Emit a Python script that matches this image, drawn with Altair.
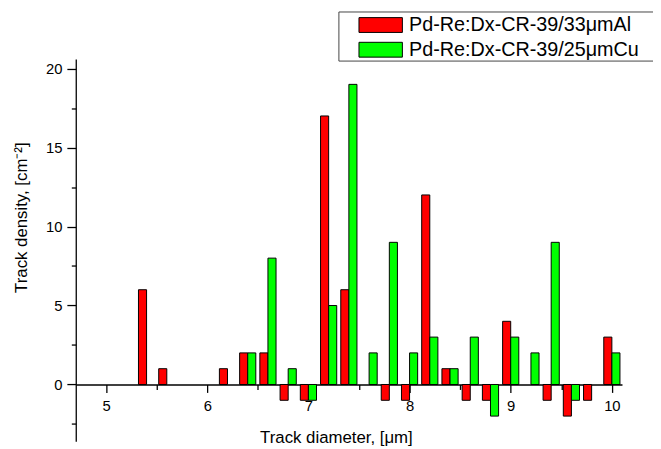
import altair as alt
import pandas as pd

# ---- data ----
bin_centers = [5.0, 5.2, 5.4, 5.6, 5.8, 6.0, 6.2, 6.4, 6.6, 6.8, 7.0, 7.2, 7.4,
               7.6, 7.8, 8.0, 8.2, 8.4, 8.6, 8.8, 9.0, 9.2, 9.4, 9.6, 9.8, 10.0]
al_values = [0, 0, 6, 1, 0, 0, 1, 2, 2, -1, -1, 17, 6,
             0, -1, -1, 12, 1, -1, -1, 4, 0, -1, -2, -1, 3]
cu_values = [0, 0, 0, 0, 0, 0, 0, 2, 8, 1, -1, 5, 19,
             2, 9, 2, 3, 1, 3, -2, 3, 2, 9, -1, 0, 2]
series_names = ["Pd-Re:Dx-CR-39/33\u03bcmAl", "Pd-Re:Dx-CR-39/25\u03bcmCu"]
series_colors = ["#FF0000", "#00FF00"]
x_major = [5, 6, 7, 8, 9, 10]
x_minor = [5.5, 6.5, 7.5, 8.5, 9.5]
y_major = [0, 5, 10, 15, 20]
y_minor = [-2.5, 2.5, 7.5, 12.5, 17.5]

BAR_W = 0.08
rows = []
for name, vals, side in [(series_names[0], al_values, -1), (series_names[1], cu_values, 0)]:
    for c, v in zip(bin_centers, vals):
        if v == 0:
            continue
        x0 = c + side * BAR_W
        rows.append({"series": name, "x0": x0, "x1": x0 + BAR_W, "value": v})
df = pd.DataFrame(rows)

FONT = "Liberation Sans"
W, H = 553, 387
YDOM = [-3.6, 20.6]
XDOM = [4.7, 10.1]
y0_px = H * YDOM[1] / (YDOM[1] - YDOM[0])
x_off = -(H - y0_px)

xscale = alt.Scale(domain=XDOM, nice=False, zero=False)
yscale = alt.Scale(domain=YDOM, nice=False, zero=False)

common_axis = dict(labelFont=FONT, labelFontSize=15, labelColor="black",
                   tickColor="black", domainColor="black", tickWidth=1.3,
                   domainWidth=1.3, grid=False, titleFont=FONT, titleFontSize=17,
                   titleColor="black", titleFontWeight="normal")

x_axis_major = alt.Axis(values=x_major, format="d", orient="bottom", offset=x_off,
                        tickSize=8, labelPadding=6, title="Track diameter, [\u03bcm]",
                        titleX=263.4, titleY=54, titleAlign="center",
                        titleBaseline="middle", titleAngle=0, **common_axis)
y_axis_major = alt.Axis(values=y_major, format="d", orient="left", tickSize=9,
                        labelPadding=5, title="Track density, [cm\u207b\u00b2]",
                        titleX=-54.6, titleY=160, titleAngle=270, titleAlign="center",
                        titleBaseline="middle", **common_axis)
x_axis_minor = alt.Axis(values=x_minor, orient="bottom", offset=x_off, tickSize=5,
                        labels=False, domain=False, title=None, grid=False,
                        tickColor="black", tickWidth=1.3)
y_axis_minor = alt.Axis(values=y_minor, orient="left", tickSize=4.5, labels=False,
                        domain=False, title=None, grid=False, tickColor="black",
                        tickWidth=1.3)

legend = alt.Legend(title=None, orient="none", legendX=281.7, legendY=-44.5,
                    padding=0, symbolType="M-2.93,-1L2.93,-1L2.93,1L-2.93,1Z",
                    symbolSize=225, symbolStrokeColor="black", symbolStrokeWidth=1,
                    symbolOpacity=1, symbolOffset=17, labelOffset=18.7,
                    labelFont=FONT, labelFontSize=20, labelColor="black",
                    labelLimit=0, rowPadding=5)

bars = alt.Chart(df).mark_rect(stroke="black", strokeWidth=1).encode(
    x=alt.X("x0:Q", scale=xscale, axis=x_axis_major),
    x2="x1:Q",
    y=alt.Y("value:Q", scale=yscale, axis=y_axis_major),
    y2=alt.datum(0),
    fill=alt.Fill("series:N", scale=alt.Scale(domain=series_names, range=series_colors),
                  legend=legend),
)

minor = alt.Chart(df).mark_point(opacity=0, size=0).encode(
    x=alt.X("x0:Q", scale=xscale, axis=x_axis_minor),
    y=alt.Y("value:Q", scale=yscale, axis=y_axis_minor),
)

frame = alt.Chart(pd.DataFrame({"k": [0]})).mark_rect(
    fillOpacity=0, stroke="#444444", strokeWidth=1
).encode(
    x=alt.value(266.4), x2=alt.value(640), y=alt.value(-47.7), y2=alt.value(2)
)

chart = alt.layer(bars, minor, frame).resolve_axis(
    x="independent", y="independent"
).properties(
    width=W, height=H,
    autosize=alt.AutoSizeParams(type="none"),
    padding={"left": 68.6, "top": 49, "right": 31.4, "bottom": 5},
    background="white",
).configure_view(stroke=None)

chart.save("out.html", embed_options={"renderer": "svg", "actions": False})
